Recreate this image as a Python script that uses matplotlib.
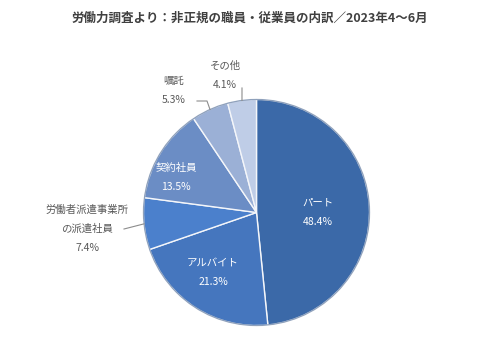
import numpy as np
import matplotlib.pyplot as plt
from matplotlib.patches import Circle

plt.rcParams['font.family'] = ['Noto Sans CJK JP', 'DejaVu Sans']

# 非正規の職員・従業員の内訳 (%)
categories = ['パート', 'アルバイト', '労働者派遣事業所\nの派遣社員', '契約社員', '嘱託', 'その他']
shares = [48.4, 21.3, 7.4, 13.5, 5.3, 4.1]
colors = ['#3b69a8', '#4576be', '#4b80cc', '#6b8dc5', '#9bb0d6', '#bfcde7']
title = '労働力調査より：非正規の職員・従業員の内訳／2023年4～6月'

W, H = 500, 341
cx, cy, r = 256.5, H - 212.5, 113

fig = plt.figure(figsize=(W / 100, H / 100), dpi=100)
ax = fig.add_axes([0, 0, 1, 1])

wedges, _ = ax.pie(shares, colors=colors, startangle=90, counterclock=False,
                   center=(cx, cy), radius=r,
                   wedgeprops=dict(edgecolor='#f4f6fa', linewidth=1.0))
# darker rim for a bit of depth
ax.add_patch(Circle((cx, cy), r, fill=False, edgecolor='#2b4d7e',
                    linewidth=0.9, alpha=0.5))
ax.set_xlim(0, W)
ax.set_ylim(0, H)
ax.set_aspect('equal')
ax.axis('off')

# label anchor (pixel coords from top-left), inside or outside the pie
label_pos = [(318, 203, True), (213, 263, True), (87, 210, False),
             (176, 168, True), (174, 81, False), (225, 66, False)]
# where the leader line leaves the label
leader_start = [None, None, (124, 229), None, (197, 101), (242, 88)]

for w, name, val, (lx, ly, inside), ls in zip(wedges, categories, shares,
                                               label_pos, leader_start):
    col = 'white' if inside else '#595959'
    lines = name.split('\n') + ['%.1f%%' % val]
    for i, t in enumerate(lines):
        ax.text(lx, H - (ly + 19 * i), t, ha='center', va='center',
                fontsize=7.5, color=col)
    if ls is not None:
        ang = np.deg2rad((w.theta1 + w.theta2) / 2)
        ex, ey = cx + r * np.cos(ang), cy + r * np.sin(ang)
        sx, sy = ls[0], H - ls[1]
        if name == '嘱託':
            ax.plot([sx, ex - 3, ex], [sy, sy, ey], color='#8c8c8c', lw=0.8)
        else:
            ax.plot([sx, ex], [sy, ey], color='#8c8c8c', lw=0.8)

ax.text(250, H - 18, title, ha='center', va='center', fontsize=9,
        fontweight='bold', color='#404040')

fig.savefig('out.png', dpi=100)
